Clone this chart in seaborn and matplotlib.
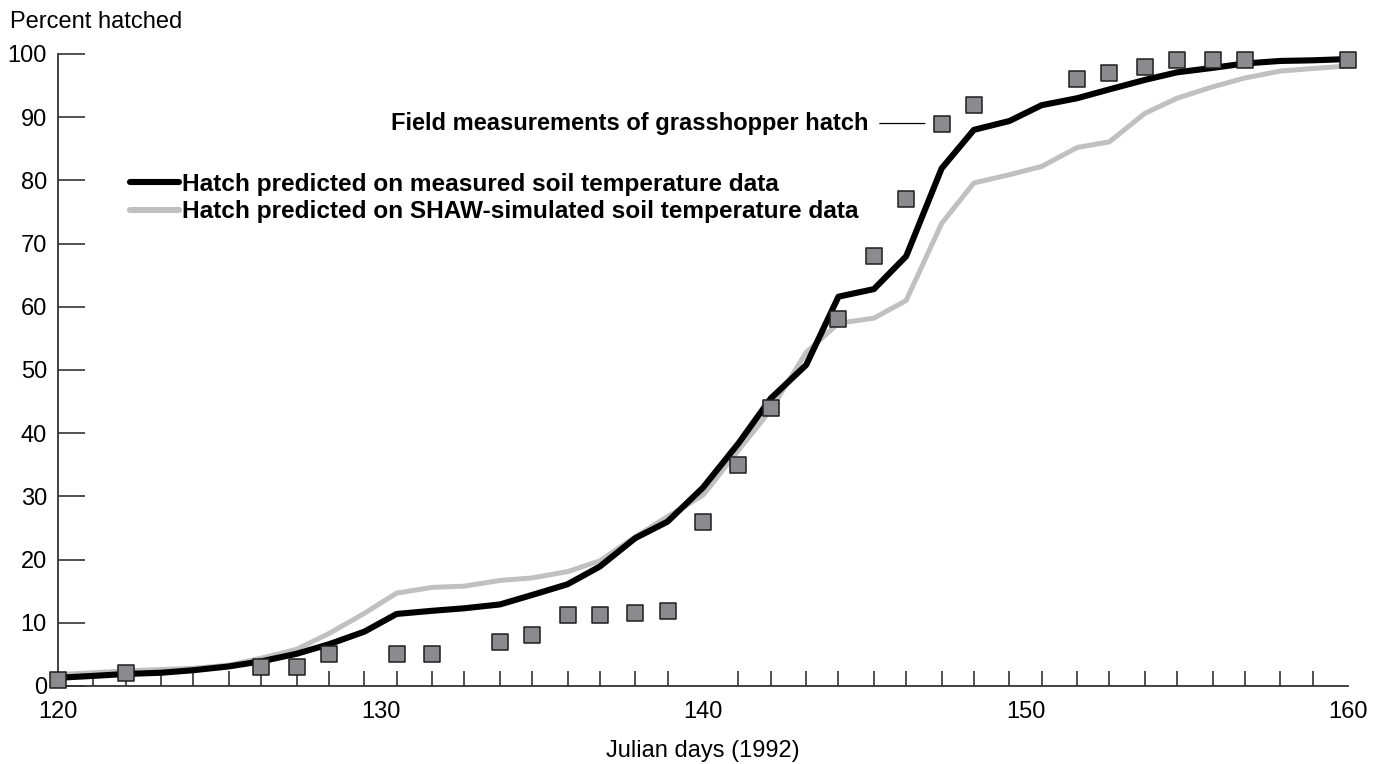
import matplotlib
matplotlib.use("Agg")
import matplotlib.pyplot as plt
from matplotlib.lines import Line2D
import seaborn as sns
import pandas as pd

# Model output days (Julian day, 1992)
model_days = [120.0, 121.1, 122.1, 123.2, 124.2, 125.3, 126.3, 127.4, 128.4, 129.5,
              130.5, 131.6, 132.6, 133.7, 134.7, 135.8, 136.8, 137.9, 138.9, 140.0,
              141.1, 142.1, 143.2, 144.2, 145.3, 146.3, 147.4, 148.4, 149.5, 150.5,
              151.6, 152.6, 153.7, 154.7, 155.8, 156.8, 157.9, 158.9, 160.0]

# Predicted hatch from measured soil temperatures (%)
hatch_measured = [1.3, 1.6, 1.9, 2.1, 2.5, 3.1, 3.9, 5.1, 6.6, 8.6,
                  11.4, 11.9, 12.3, 12.9, 14.4, 16.1, 18.9, 23.4, 26.0, 31.4,
                  38.4, 45.5, 50.8, 61.6, 62.8, 68.0, 81.9, 88.0, 89.4, 91.9,
                  93.0, 94.4, 95.9, 97.1, 97.8, 98.5, 98.9, 99.0, 99.2]

# Predicted hatch from SHAW-simulated soil temperatures (%)
hatch_shaw = [1.8, 2.1, 2.4, 2.6, 2.8, 3.3, 4.4, 5.8, 8.3, 11.5,
              14.7, 15.6, 15.8, 16.7, 17.1, 18.1, 19.8, 23.6, 26.8, 30.2,
              37.3, 43.7, 52.8, 57.4, 58.2, 61.0, 73.2, 79.6, 80.9, 82.2,
              85.2, 86.1, 90.6, 93.0, 94.8, 96.2, 97.3, 97.7, 98.1]

# Field measurements of grasshopper hatch
field_days = [120.0, 122.1, 126.3, 127.4, 128.4, 130.5, 131.6, 133.7, 134.7, 135.8,
              136.8, 137.9, 138.9, 140.0, 141.1, 142.1, 144.2, 145.3, 146.3, 147.4,
              148.4, 151.6, 152.6, 153.7, 154.7, 155.8, 156.8, 160.0]
field_pct = [1, 2, 3, 3, 5, 5, 5, 7, 8, 11.3,
             11.3, 11.5, 11.8, 26, 35, 44, 58, 68, 77, 89,
             92, 96, 97, 98, 99, 99, 99, 99]

x_ticks = [120, 130, 140, 150, 160]
y_ticks = [0, 10, 20, 30, 40, 50, 60, 70, 80, 90, 100]

label_measured = "Hatch predicted on measured soil temperature data"
label_shaw = "Hatch predicted on SHAW-simulated soil temperature data"
label_field = "Field measurements of grasshopper hatch"

sns.set_style("ticks")
plt.rcParams["font.family"] = ["Liberation Sans", "DejaVu Sans"]
plt.rcParams["text.color"] = "#000000"
plt.rcParams["axes.labelcolor"] = "#000000"

lines = pd.DataFrame({
    "day": model_days * 2,
    "pct": hatch_measured + hatch_shaw,
    "series": [label_measured] * len(model_days) + [label_shaw] * len(model_days),
})
field = pd.DataFrame({"day": field_days, "pct": field_pct})

fig = plt.figure(figsize=(13.76, 7.64), dpi=100)
ax = fig.add_axes([58 / 1376, 78 / 764, 1290 / 1376, 632 / 764])

# SHAW line first so the measured line sits on top
sns.lineplot(data=lines, x="day", y="pct", hue="series",
             hue_order=[label_shaw, label_measured],
             palette={label_measured: "#000000", label_shaw: "#c0c0c0"},
             size="series", sizes={label_measured: 4.4, label_shaw: 3.6},
             ax=ax, legend=False, clip_on=False)

sns.scatterplot(data=field, x="day", y="pct", marker="s", s=125,
                color="#8b8b8f", edgecolor="#1e1e1e", linewidth=1.1,
                ax=ax, zorder=5, clip_on=False)

ax.set_xlim(120, 160)
ax.set_ylim(0, 100)
ax.set_xlabel("Julian days (1992)", fontsize=17, labelpad=12)
ax.set_ylabel("")

for s in ("top", "right"):
    ax.spines[s].set_visible(False)
for s in ("left", "bottom"):
    ax.spines[s].set_color("#333333")
    ax.spines[s].set_linewidth(1.3)

ax.set_yticks(y_ticks)
ax.set_xticks(x_ticks)
ax.set_xticks(model_days, minor=True)
ax.tick_params(axis="y", which="major", left=True, direction="in", length=19.5,
               width=1.1, color="#222222", pad=8, labelsize=17,
               labelcolor="#000000")
ax.tick_params(axis="y", which="minor", left=False)
ax.tick_params(axis="x", which="major", bottom=True, length=0, pad=11,
               labelsize=17, labelcolor="#000000")
ax.tick_params(axis="x", which="minor", bottom=True, direction="in", length=11,
               width=1.1, color="#222222")

fig.text(10 / 1376, 1 - 22 / 764, "Percent hatched", ha="left", va="center",
         fontsize=17, color="#000000")

# Legend for the two predicted-hatch lines
handles = [Line2D([], [], color="#000000", lw=4.4),
           Line2D([], [], color="#c0c0c0", lw=4.4)]
ax.legend(handles, [label_measured, label_shaw], loc="center left",
          bbox_to_anchor=((130 - 58) / 1290, (686 - 198) / 632), frameon=False,
          handlelength=2.0, handletextpad=0.12, labelspacing=0.2,
          borderaxespad=0, borderpad=0,
          prop={"weight": "bold", "size": 17.6})

# Label pointing at the field measurements
ax.annotate(label_field, xy=(field_days[19], field_pct[19]),
            xytext=(145.12, field_pct[19]), ha="right", va="center",
            fontsize=17, fontweight="bold", color="#000000",
            arrowprops=dict(arrowstyle="-", color="#000000", lw=0.9,
                            shrinkA=6, shrinkB=12))

fig.savefig("out.png", dpi=100, facecolor="white")
